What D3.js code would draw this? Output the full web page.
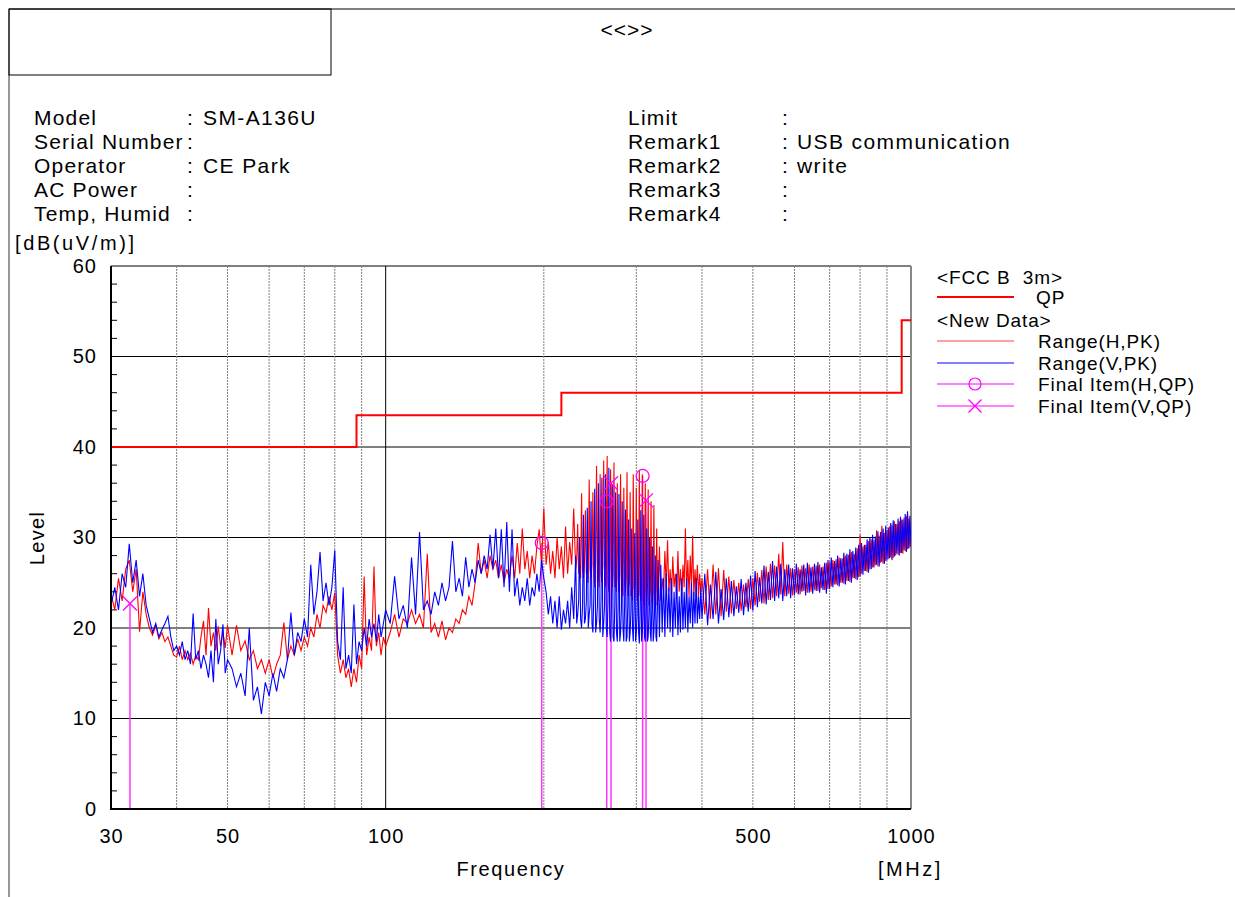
<!DOCTYPE html>
<html>
<head>
<meta charset="utf-8">
<script src="https://cdn.jsdelivr.net/npm/d3@7"></script>
<style>
  body { margin: 0; background: #fff; }
  text { font-family: "Liberation Sans", Arial, sans-serif; fill: #000; }
</style>
</head>
<body>
<div id="chart"></div>
<script>
// sweep frequencies [MHz]
var freqs = [
  30,30.5,31,31.5,32,32.5,33,33.5,34,34.5,35,35.5,36,36.5,37,37.5,38,38.5,39,39.5,
  40,40.5,41,41.5,42,42.5,43,43.5,44,44.5,45,45.5,46,46.5,47,47.5,48,48.5,49,49.5,50,
  51,52,53,54,55,56,57,58,59,60,61,62,63,64,65,66,67,68,69,70,
  71,72,73,74,75,76,77,78,79,80,81,82,83,84,85,86,87,88,89,90,
  91,92,93,94,95,96,97,98,99,100,
  102,104,106,108,110,112,114,116,118,120,122,124,126,128,130,132,134,136,138,140,
  142,144,146,148,150,152,154,156,158,160,162,164,166,168,170,172,174,176,178,180,
  182,184,186,188,190,192,194,196,198,200,
  202,204,206,208,210,212,214,216,218,220,222,224,226,228,
  230,231,232,233,234,235,236,237,238,239,240,241,242,243,244,245,246,247,248,249,
  250,251,252,253,254,255,256,257,258,259,260,261,262,263,264,265,266,267,268,269,
  270,271,272,273,274,275,276,277,278,279,280,281,282,283,284,285,286,287,288,289,
  290,291,292,293,294,295,296,297,298,299,300,301,302,303,304,305,306,307,308,309,
  310,311,312,313,314,315,316,317,318,319,320,321,322,323,324,325,326,327,328,329,330,
  332,334,336,338,340,342,344,346,348,350,352,354,356,358,360,362,364,366,368,370,
  372,374,376,378,380,382,384,386,388,390,392,394,396,398,400,
  405,410,415,420,425,430,435,440,445,450,455,460,465,470,475,480,485,490,495,500,
  505,510,515,520,525,530,535,540,545,550,555,560,565,570,575,580,585,590,595,600,
  605,610,615,620,625,630,635,640,645,650,655,660,665,670,675,680,685,690,695,700,
  705,710,715,720,725,730,735,740,745,750,755,760,765,770,775,780,785,790,795,800,
  805,810,815,820,825,830,835,840,845,850,855,860,865,870,875,880,885,890,895,900,
  905,910,915,920,925,930,935,940,945,950,955,960,965,970,975,980,985,990,995,1000
];

// Range(H,PK) [dB(uV/m)]
var levelH = [
  23.8,22,25.5,23,26.5,27.5,24,26.5,19.6,24,21.5,20,19.2,20.3,18.8,19.5,18.5,19,18,17,
  16.8,18,16.5,17.5,16.5,17.2,16,17,16.5,19,20.8,17,22.2,18,19.5,17.5,20.2,18,19.5,17.8,20.3,
  17,20.3,17.5,18.6,16.5,17.5,15.5,16.5,15,16.5,14.5,16,17,20.6,16.5,18,17,18.8,17.5,19,
  18,20,19,21.5,20,22.5,21.7,23.5,22,23.9,17,15,16.5,14.5,15.5,13.5,15.5,14,17,15.5,
  25.7,17,19,17.5,26.8,18,19.5,17,19,18,
  19.5,21.5,19,21,20.5,22,20.5,21.5,20,28.2,19.5,20.5,19,20.8,18.7,20,19.5,21,20.5,22,
  21.5,23.5,22.5,25,29.4,26,27.5,25.5,28,26.5,27.5,25.5,27,25,26.5,25.5,28,25.5,29.4,26,
  31,26.5,28.5,25.5,28,26,29,30.9,27,33.2,
  27,29.5,26,28.5,25.5,30,26.5,29,25.5,31.2,26,29.5,27,33.2,
  26.5,27.5,31.5,26,27,25.5,34.9,26.5,25.5,27,33,26,27.5,25,36.4,26.5,25.5,27,35,26,
  24.5,27.5,37.9,25,26.5,24.5,37,26,25,27,38.5,25.5,24.5,26.5,39,25,24,26.5,37.5,25,
  24.5,26,38.3,24.5,25.5,24,36,25.5,24,26,37,24,25,23.5,35.5,25,24,25.5,37.2,23.5,
  24.5,25,35,23.5,24.5,23,37,24.5,23.5,25,35.5,23,24,23.5,37.4,24,23,24.5,37,23,
  24,22.5,36,24,23,24.5,35.3,22.5,23.5,24,34,23,22.5,24,33.6,22.5,23.5,22.5,31,24,23,
  29,23,25.5,24,28.5,24.5,29.7,24,26.5,23.5,27.9,24.5,26,23.5,28.5,24,26.5,23.5,27,24.5,
  31,24,27.5,23.5,28,24.5,30.2,23.5,26.5,24,27,23.5,26,24,25.5,
  21.5,26.5,21,27,21.5,26.6,21.3,26.4,21.8,25.7,21.6,25.3,22.1,25,21.9,24.8,22.3,25.4,22.1,25.5,
  22.5,26.1,22.9,26.4,22.7,26.8,23.1,27.1,23.3,26.9,23.5,28.2,23.7,29.5,23.5,27,23.8,26.6,23.6,26.5,
  23.9,26.7,23.7,26.9,24.1,26.6,23.9,27,24,26.8,24.2,26.9,24.1,27,24.4,26.8,24.2,27.2,24.3,27.3,
  24.6,27.5,24.8,27.6,24.7,27.8,25,27.7,24.9,28,25.2,28.1,25.1,28.4,25.5,28.2,25.4,28.8,25.6,30.3,
  26,29,26.3,29.2,26.2,29.6,26.5,29.8,26.7,29.7,26.9,30.8,26.8,30.2,27.2,31.3,27.1,30.5,27.4,30.8,
  27.6,31.2,27.8,31.4,27.7,31.8,28,31.5,28.1,31.8,28.3,32,28.2,32.2,28.5,32.4,28.7,32.1,28.9,30
];

// Range(V,PK) [dB(uV/m)]
var levelV = [
  22.5,24.5,22,26,24.5,29.3,25,27.5,23.5,26,22.5,21,19.5,20.5,19,19.8,20.5,21.3,19,17.5,
  18,17,18.5,16.5,17.5,16,21.6,16.5,17.5,15.5,17,16,14.5,17.5,14,21,16,17.5,20.4,15,16.5,
  15.5,13.5,15,12.5,20,12,13.5,10.5,14,12.5,15,13,15.5,14.5,16.5,21.7,17,19.5,18.5,21,
  19,27,21.5,24,28.4,23,25,22.5,24.5,28.6,18.5,16.5,24.5,15.5,17,15,22.6,16,18.5,17.5,
  20,18,21,19,20.5,18.5,21.5,19,20.5,22,
  20.5,25.7,21,22.5,20,27.8,21.5,30.6,22,23,21.5,24,22.5,25,23,24.5,29.6,24,25.5,23.5,
  27.8,24.5,26.5,25,27.5,26,28,26.5,30.3,26.5,31,25.5,30.9,24.5,31.7,24,30.9,23.5,25.5,22.5,
  24.5,23,25.5,22.5,24.5,23.5,26,24,27.5,25.5,
  24,21.5,23.5,20.5,23,20,23.5,19.8,22,20.5,23,20,24.5,21,
  28,20.5,21.5,23,30,21,20,22.5,32.5,20.5,21,23,33.3,20,21.5,22.5,34,20.5,19.5,23.5,
  35.4,19.5,20.5,22.5,36,21,19.5,23,36.6,19,20.5,22.5,37,20,19,23,37.7,19.5,18.5,22.5,
  35.9,19,18.5,22.5,35,19.5,18.5,22.5,34.8,18.5,19.5,22,34,20,18.5,22.5,33.1,18.5,19,22.5,
  32,18.5,19.5,22,31,20,18.5,22,30.5,18.5,19.5,21.5,32,19.5,18.3,22,33,18.5,19.5,21.5,
  32.5,19,18.5,22,31,18.5,19,21.5,30,19.5,18.5,22,29,18.5,19.5,22,28,19,18.5,22,27.5,
  19,27,19.5,25.5,19,26,20,24.5,19.5,25.5,19,24,20,26,19.2,23.5,19.5,25.5,19.8,24,
  20,25.5,19.5,23.5,20.5,25,20,24,20.5,25.5,20.5,23.5,21,24.5,21,
  26,20.3,24.8,21,26.2,20.5,24.3,20.9,25.5,21.2,25.2,21.3,24.6,21.7,25.4,21.4,25,21.8,25.8,21.9,
  26.3,22.3,25.6,22.7,26.9,22.6,26.2,23.1,27.4,23,26.8,23.3,27.1,23,26.5,23.5,27,23.3,26.6,23.6,
  27.1,23.7,26.5,24,27,23.6,27.2,23.9,26.7,23.8,27.1,24.1,27.3,23.9,26.7,24.2,27.2,23.8,27.5,24.3,
  27.8,24.5,27.4,24.8,28,24.6,27.7,25,28.3,24.8,28.2,25.2,28.7,25,28.5,25.5,28.9,25.3,29.2,25.7,
  29.4,25.9,29.2,26.3,29.8,26.1,30,26.5,30.3,26.7,30.1,27,30.7,26.8,30.6,27.3,31,27.1,31.3,27.5,
  31.1,27.7,31.6,27.5,31.9,27.9,31.5,28.2,32.1,28,32.3,28.3,32,28.6,32.6,28.4,32.9,28.8,32.4,29
];

// FCC B 3m QP limit
var limitFreq = [30, 88, 216, 960, 1000];
var limitLevel = [40, 43.5, 46, 54, 54];

// final QP items
var finalH = [[198.2, 29.4], [263.5, 34.0], [308.4, 36.8]];
var finalV = [[32.6, 22.7], [268.5, 36.0], [313.0, 34.1]];

var yTicks = [0, 10, 20, 30, 40, 50, 60];
var xTicks = [30, 50, 100, 500, 1000];
var xGridMinor = [40, 50, 60, 70, 80, 90, 200, 300, 400, 500, 600, 700, 800, 900];

var infoLeft = [["Model", "SM-A136U"], ["Serial Number", ""], ["Operator", "CE Park"], ["AC Power", ""], ["Temp, Humid", ""]];
var infoRight = [["Limit", ""], ["Remark1", "USB communication"], ["Remark2", "write"], ["Remark3", ""], ["Remark4", ""]];

var W = 1235, H = 897;
var pLeft = 111, pRight = 911, pTop = 266, pBottom = 809;

var svg = d3.select("#chart").append("svg")
  .attr("width", W).attr("height", H);

var x = d3.scaleLog().domain([30, 1000]).range([pLeft, pRight]);
var y = d3.scaleLinear().domain([0, 60]).range([pBottom, pTop]);

// page frame
svg.append("line").attr("x1", 9).attr("x2", W).attr("y1", 9).attr("y2", 9)
  .attr("stroke", "#555").attr("stroke-width", 1.5);
svg.append("line").attr("x1", 9).attr("x2", 9).attr("y1", 9).attr("y2", H)
  .attr("stroke", "#333").attr("stroke-width", 1);
svg.append("rect").attr("x", 9).attr("y", 9).attr("width", 322).attr("height", 66)
  .attr("fill", "none").attr("stroke", "#000").attr("stroke-width", 1);

svg.append("text").attr("x", 627).attr("y", 37).attr("text-anchor", "middle")
  .style("font-size", "21px").style("letter-spacing", "1px").text("<<>>");

// header info
var infoFont = "21px";
infoLeft.forEach(function(d, i) {
  var yy = 124.5 + i * 24;
  svg.append("text").attr("x", 34).attr("y", yy).style("font-size", infoFont)
    .style("letter-spacing", "1.2px").text(d[0]);
  svg.append("text").attr("x", 187).attr("y", yy).style("font-size", infoFont).text(":");
  svg.append("text").attr("x", 203).attr("y", yy).style("font-size", infoFont)
    .style("letter-spacing", "1.4px").text(d[1]);
});
infoRight.forEach(function(d, i) {
  var yy = 124.5 + i * 24;
  svg.append("text").attr("x", 628).attr("y", yy).style("font-size", infoFont)
    .style("letter-spacing", "1.2px").text(d[0]);
  svg.append("text").attr("x", 782).attr("y", yy).style("font-size", infoFont).text(":");
  svg.append("text").attr("x", 797).attr("y", yy).style("font-size", infoFont)
    .style("letter-spacing", "1.4px").text(d[1]);
});

svg.append("text").attr("x", 15).attr("y", 250).style("font-size", "20px")
  .style("letter-spacing", "2.6px").text("[dB(uV/m)]");

// grid
var g = svg.append("g");
g.selectAll(".hgrid").data(yTicks.slice(1)).enter().append("line")
  .attr("x1", pLeft).attr("x2", pRight)
  .attr("y1", function(d) { return y(d); }).attr("y2", function(d) { return y(d); })
  .attr("stroke", "#000").attr("stroke-width", 1);
g.selectAll(".vgrid").data(xGridMinor).enter().append("line")
  .attr("x1", function(d) { return x(d); }).attr("x2", function(d) { return x(d); })
  .attr("y1", pTop).attr("y2", pBottom)
  .attr("stroke", "#808080").attr("stroke-width", 1).attr("stroke-dasharray", "2,1");
g.append("line").attr("x1", x(100)).attr("x2", x(100)).attr("y1", pTop).attr("y2", pBottom)
  .attr("stroke", "#000").attr("stroke-width", 1);
g.append("line").attr("x1", pRight).attr("x2", pRight).attr("y1", pTop).attr("y2", pBottom)
  .attr("stroke", "#888").attr("stroke-width", 2);

// minor y ticks
var minorY = d3.range(0, 61, 2).filter(function(v) { return v % 10 !== 0; });
g.selectAll(".ytick").data(minorY).enter().append("line")
  .attr("x1", pLeft).attr("x2", pLeft + 6)
  .attr("y1", function(d) { return y(d); }).attr("y2", function(d) { return y(d); })
  .attr("stroke", "#000").attr("stroke-width", 1);

svg.append("clipPath").attr("id", "plotclip").append("rect")
  .attr("x", pLeft).attr("y", pTop).attr("width", pRight - pLeft).attr("height", pBottom - pTop);
var plot = svg.append("g").attr("clip-path", "url(#plotclip)");

// stems of final items
var stems = finalH.concat(finalV);
plot.selectAll(".stem").data(stems).enter().append("line")
  .attr("x1", function(d) { return x(d[0]); }).attr("x2", function(d) { return x(d[0]); })
  .attr("y1", function(d) { return y(d[1]); }).attr("y2", y(0))
  .attr("stroke", "#ff33ff").attr("stroke-width", 1.5);

var trace = d3.line()
  .x(function(d, i) { return x(freqs[i]); })
  .y(function(d) { return y(d); });

plot.append("path").datum(levelH).attr("d", trace)
  .attr("fill", "none").attr("stroke", "#ff0000").attr("stroke-width", 1.1);
plot.append("path").datum(levelV).attr("d", trace)
  .attr("fill", "none").attr("stroke", "#0000ff").attr("stroke-width", 1.1);

// limit
var limitLine = d3.line()
  .x(function(d, i) { return x(limitFreq[i]); })
  .y(function(d) { return y(d); })
  .curve(d3.curveStepAfter);
plot.append("path").datum(limitLevel).attr("d", limitLine)
  .attr("fill", "none").attr("stroke", "#ff0000").attr("stroke-width", 2);

// final markers
plot.selectAll(".qpH").data(finalH).enter().append("circle")
  .attr("cx", function(d) { return x(d[0]); }).attr("cy", function(d) { return y(d[1]); })
  .attr("r", 6.5).attr("fill", "none").attr("stroke", "#ff00ff").attr("stroke-width", 1.3);
var cross = function(sel, cx, cy, s) {
  sel.append("path")
    .attr("d", "M" + (cx - s) + "," + (cy - s) + "L" + (cx + s) + "," + (cy + s) +
               "M" + (cx - s) + "," + (cy + s) + "L" + (cx + s) + "," + (cy - s))
    .attr("stroke", "#ff00ff").attr("stroke-width", 1.3).attr("fill", "none");
};
finalV.forEach(function(d) { cross(plot, x(d[0]), y(d[1]), 7); });

// axes
svg.append("line").attr("x1", pLeft).attr("x2", pLeft).attr("y1", pTop).attr("y2", pBottom + 1)
  .attr("stroke", "#000").attr("stroke-width", 2);
svg.append("line").attr("x1", pLeft).attr("x2", pRight).attr("y1", pBottom).attr("y2", pBottom)
  .attr("stroke", "#000").attr("stroke-width", 2);

var yAxis = svg.append("g").attr("transform", "translate(" + pLeft + ",0)")
  .call(d3.axisLeft(y).tickValues(yTicks).tickSize(0).tickPadding(14));
var xAxis = svg.append("g").attr("transform", "translate(0," + pBottom + ")")
  .call(d3.axisBottom(x).tickValues(xTicks).tickFormat(d3.format("d")).tickSize(0).tickPadding(20));
[yAxis, xAxis].forEach(function(a) {
  a.select(".domain").remove();
  a.selectAll("text").style("font-size", "20px").style("letter-spacing", "1px")
    .style("font-family", "Liberation Sans, Arial, sans-serif").attr("fill", "#000");
});

svg.append("text").attr("x", 511).attr("y", 876).attr("text-anchor", "middle")
  .style("font-size", "20px").style("letter-spacing", "1.6px").text("Frequency");
svg.append("text").attr("x", 878).attr("y", 876)
  .style("font-size", "20px").style("letter-spacing", "2.5px").text("[MHz]");
svg.append("text").attr("transform", "translate(44,538) rotate(-90)")
  .attr("text-anchor", "middle").style("font-size", "20px").style("letter-spacing", "1.3px").text("Level");

// legend
var lg = svg.append("g").style("font-size", "19px");
var lfont = function(t) { return t.style("letter-spacing", "0.9px"); };
lfont(lg.append("text").attr("x", 937).attr("y", 284).attr("xml:space", "preserve").text("<FCC B  3m>"));
lg.append("line").attr("x1", 937).attr("x2", 1014).attr("y1", 297).attr("y2", 297)
  .attr("stroke", "#ff0000").attr("stroke-width", 2);
lfont(lg.append("text").attr("x", 1036).attr("y", 304).text("QP"));
lfont(lg.append("text").attr("x", 937).attr("y", 327).text("<New Data>"));

var legendRows = [
  { label: "Range(H,PK)", y: 341, color: "#ff4040", mark: null },
  { label: "Range(V,PK)", y: 363, color: "#0000ff", mark: null },
  { label: "Final Item(H,QP)", y: 384, color: "#ff00ff", mark: "o" },
  { label: "Final Item(V,QP)", y: 406, color: "#ff00ff", mark: "x" }
];
legendRows.forEach(function(r) {
  lg.append("line").attr("x1", 937).attr("x2", 1014).attr("y1", r.y).attr("y2", r.y)
    .attr("stroke", r.color).attr("stroke-width", 1);
  if (r.mark === "o") {
    lg.append("circle").attr("cx", 975).attr("cy", r.y).attr("r", 6)
      .attr("fill", "none").attr("stroke", r.color).attr("stroke-width", 1.2);
  } else if (r.mark === "x") {
    cross(lg, 975, r.y, 6.5);
  }
  lfont(lg.append("text").attr("x", 1038).attr("y", r.y + 7).text(r.label));
});

if (levelH.length !== freqs.length || levelV.length !== freqs.length) {
  throw new Error("length mismatch " + freqs.length + " " + levelH.length + " " + levelV.length);
}
</script>
</body>
</html>
